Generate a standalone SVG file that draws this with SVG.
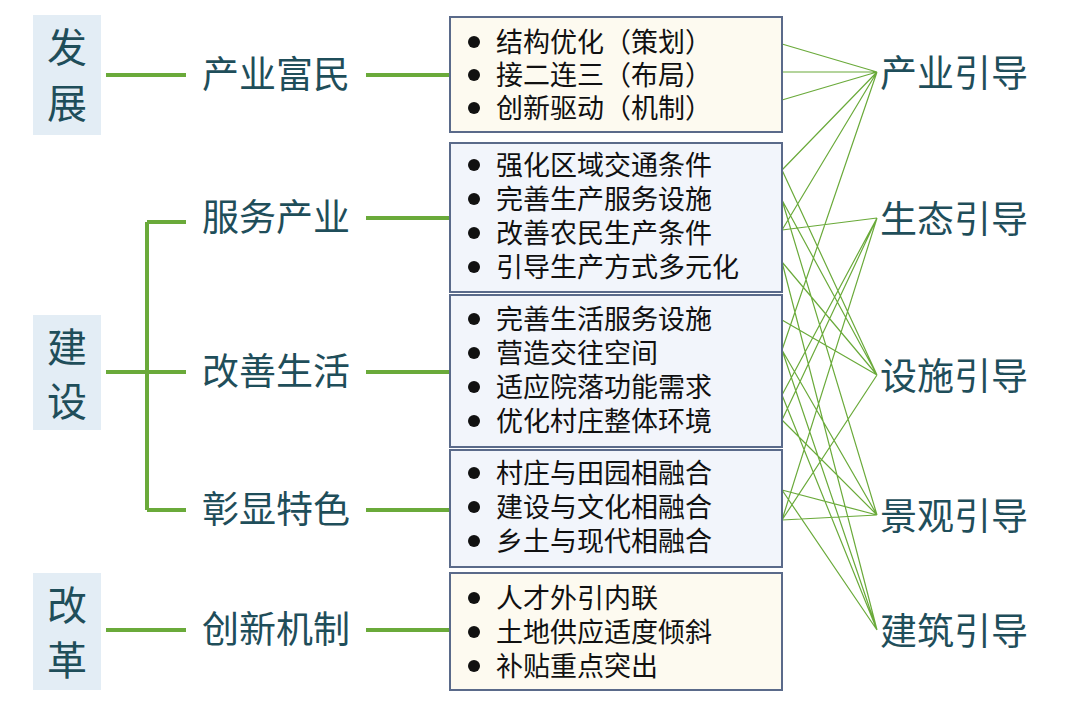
<svg xmlns="http://www.w3.org/2000/svg" width="1080" height="718" viewBox="0 0 1080 718">
<defs><circle id="d" r="6" fill="#111"/></defs>
<style>
text{font-family:"Noto Sans CJK SC","Noto Sans",sans-serif;fill:#1f4e5a}
.big{font-size:40px}.mid{font-size:37px}.it{font-size:27px;fill:#111}
.g{stroke:#6aaa3a;stroke-width:4;fill:none}
.t{stroke:#6aaa3a;stroke-width:1.2;fill:none}
.cat{fill:#e3edf5}
.bx{stroke:#5a6a8a;stroke-width:2}
.y{fill:#fdfaf0}.b{fill:#f2f5fb}
</style>
<rect width="1080" height="718" fill="#fff"/>
<g id="connectors">
<path class="g" d="M106 75H186M366 75H450M106 372H147M147 222V510M147 222H186M147 372H186M147 510H186M366 218H450M366 372H450M366 510H450M106 630H186M366 630H450"/>
<path class="t" d="M782 44L877 72M782 72L877 72M782 100L877 72
M782 170L877 72M782 230L877 72M782 170L877 375M782 200L877 375M782 200L877 515M782 262L877 630M782 230L877 218
M782 350L877 72M782 395L877 218M782 420L877 218M782 320L877 375M782 350L877 515M782 420L877 515M782 350L877 630M782 262L877 375
M782 520L877 218M782 520L877 375M782 490L877 515M782 520L877 515M782 490L877 630M782 395L877 630"/>
</g>
<g id="fazhan"><rect class="cat" x="33" y="15" width="68" height="120"/><text class="big" x="67" y="62" text-anchor="middle">发</text><text class="big" x="67" y="118" text-anchor="middle">展</text></g>
<g id="jianshe"><rect class="cat" x="33" y="315" width="68" height="115"/><text class="big" x="67" y="362" text-anchor="middle">建</text><text class="big" x="67" y="416" text-anchor="middle">设</text></g>
<g id="gaige"><rect class="cat" x="33" y="573" width="68" height="117"/><text class="big" x="67" y="620" text-anchor="middle">改</text><text class="big" x="67" y="675" text-anchor="middle">革</text></g>
<g id="m1"><text class="mid" x="276" y="88" text-anchor="middle">产业富民</text></g>
<g id="m2"><text class="mid" x="276" y="231" text-anchor="middle">服务产业</text></g>
<g id="m3"><text class="mid" x="276" y="385" text-anchor="middle">改善生活</text></g>
<g id="m4"><text class="mid" x="276" y="523" text-anchor="middle">彰显特色</text></g>
<g id="m5"><text class="mid" x="276" y="643" text-anchor="middle">创新机制</text></g>
<g id="box1"><rect class="bx y" x="450" y="17" width="332" height="115"/>
<use href="#d" x="474" y="42"/><use href="#d" x="474" y="75"/><use href="#d" x="474" y="108"/>
<text class="it" x="496" y="52">结构优化（策划）</text><text class="it" x="496" y="85">接二连三（布局）</text><text class="it" x="496" y="118">创新驱动（机制）</text></g>
<g id="box2"><rect class="bx b" x="450" y="143" width="332" height="149"/>
<use href="#d" x="474" y="165"/><use href="#d" x="474" y="199"/><use href="#d" x="474" y="233"/><use href="#d" x="474" y="267"/>
<text class="it" x="496" y="175">强化区域交通条件</text><text class="it" x="496" y="209">完善生产服务设施</text><text class="it" x="496" y="243">改善农民生产条件</text><text class="it" x="496" y="277">引导生产方式多元化</text></g>
<g id="box3"><rect class="bx b" x="450" y="295" width="332" height="152"/>
<use href="#d" x="474" y="319"/><use href="#d" x="474" y="353"/><use href="#d" x="474" y="387"/><use href="#d" x="474" y="421"/>
<text class="it" x="496" y="329">完善生活服务设施</text><text class="it" x="496" y="363">营造交往空间</text><text class="it" x="496" y="397">适应院落功能需求</text><text class="it" x="496" y="431">优化村庄整体环境</text></g>
<g id="box4"><rect class="bx b" x="450" y="450" width="332" height="117"/>
<use href="#d" x="474" y="473"/><use href="#d" x="474" y="507"/><use href="#d" x="474" y="541"/>
<text class="it" x="496" y="483">村庄与田园相融合</text><text class="it" x="496" y="517">建设与文化相融合</text><text class="it" x="496" y="551">乡土与现代相融合</text></g>
<g id="box5"><rect class="bx y" x="450" y="573" width="332" height="117"/>
<use href="#d" x="474" y="598"/><use href="#d" x="474" y="632"/><use href="#d" x="474" y="666"/>
<text class="it" x="496" y="608">人才外引内联</text><text class="it" x="496" y="642">土地供应适度倾斜</text><text class="it" x="496" y="676">补贴重点突出</text></g>
<g id="r1"><text class="mid" x="880" y="87">产业引导</text></g>
<g id="r2"><text class="mid" x="880" y="233">生态引导</text></g>
<g id="r3"><text class="mid" x="880" y="390">设施引导</text></g>
<g id="r4"><text class="mid" x="880" y="530">景观引导</text></g>
<g id="r5"><text class="mid" x="880" y="645">建筑引导</text></g>
</svg>
